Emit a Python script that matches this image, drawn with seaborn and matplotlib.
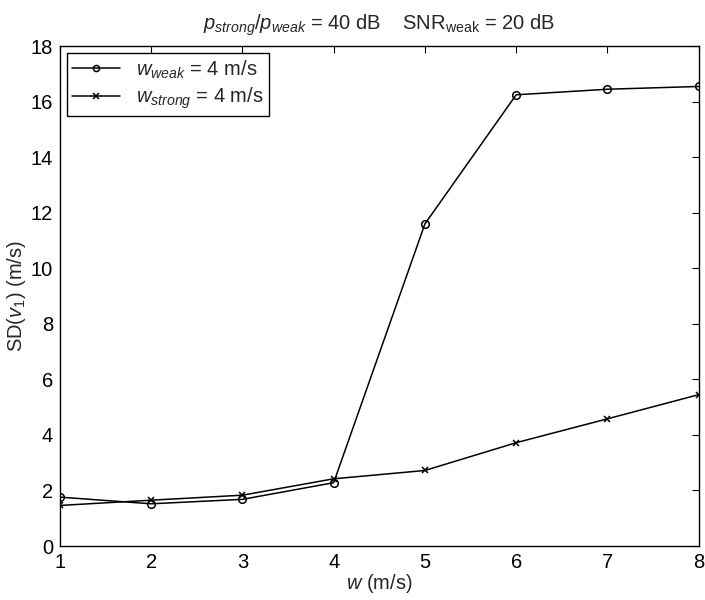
import matplotlib
matplotlib.use("Agg")
import matplotlib.pyplot as plt
import seaborn as sns
import pandas as pd

sns.set_theme(style="white")
plt.rcParams['font.family'] = ['Liberation Sans', 'DejaVu Sans']
plt.rcParams['mathtext.fontset'] = 'custom'
plt.rcParams['mathtext.rm'] = 'Liberation Sans'
plt.rcParams['mathtext.it'] = 'Liberation Sans:italic'
plt.rcParams['mathtext.bf'] = 'Liberation Sans:bold'

w = [1, 2, 3, 4, 5, 6, 7, 8]
sd_weak = [1.76, 1.52, 1.68, 2.28, 11.6, 16.25, 16.45, 16.55]
sd_strong = [1.46, 1.65, 1.83, 2.42, 2.72, 3.72, 4.58, 5.45]
label_weak = r"$w_{weak}$ = 4 m/s"
label_strong = r"$w_{strong}$ = 4 m/s"
title = r"$p_{strong}/p_{weak}$ = 40 dB    SNR$_{\mathrm{weak}}$ = 20 dB"
xticks = [1, 2, 3, 4, 5, 6, 7, 8]
yticks = [0, 2, 4, 6, 8, 10, 12, 14, 16, 18]

fig = plt.figure(figsize=(7.05, 6.0), dpi=100)
ax = fig.add_axes([0.085, 0.09, 0.906, 0.833])

df_w = pd.DataFrame({"w": w, "sd": sd_weak})
df_s = pd.DataFrame({"w": w, "sd": sd_strong})
sns.lineplot(data=df_w, x="w", y="sd", ax=ax, color="black", lw=1.1,
             marker="o", markersize=5.5, markerfacecolor="none",
             markeredgecolor="black", markeredgewidth=1.1, label=label_weak)
sns.lineplot(data=df_s, x="w", y="sd", ax=ax, color="black", lw=1.1,
             marker="x", markersize=5, markeredgewidth=1.1,
             markeredgecolor="black", label=label_strong)

ax.set_xlim(1, 8)
ax.set_ylim(0, 18)
ax.set_xticks(xticks)
ax.set_yticks(yticks)
ax.tick_params(direction="in", length=5, width=0.8, top=True, right=True,
               labelsize=14.5, colors="black", pad=5)
for sp in ax.spines.values():
    sp.set_color("black")
    sp.set_linewidth(1.0)
ax.set_xlabel(r"$w$ (m/s)", fontsize=14.5, labelpad=0)
ax.set_ylabel(r"SD($v_{\mathit{1}}$) (m/s)", fontsize=14.5, labelpad=2)
ax.set_title(title, fontsize=14.5, pad=12)

leg = ax.legend(loc="upper left", fontsize=14.5, frameon=True, fancybox=False,
                edgecolor="black", framealpha=1, borderaxespad=0.35,
                handlelength=2.4, borderpad=0.25, labelspacing=0.25,
                markerscale=0.8)
leg.get_frame().set_linewidth(1.0)

fig.savefig("out.png", dpi=100)
